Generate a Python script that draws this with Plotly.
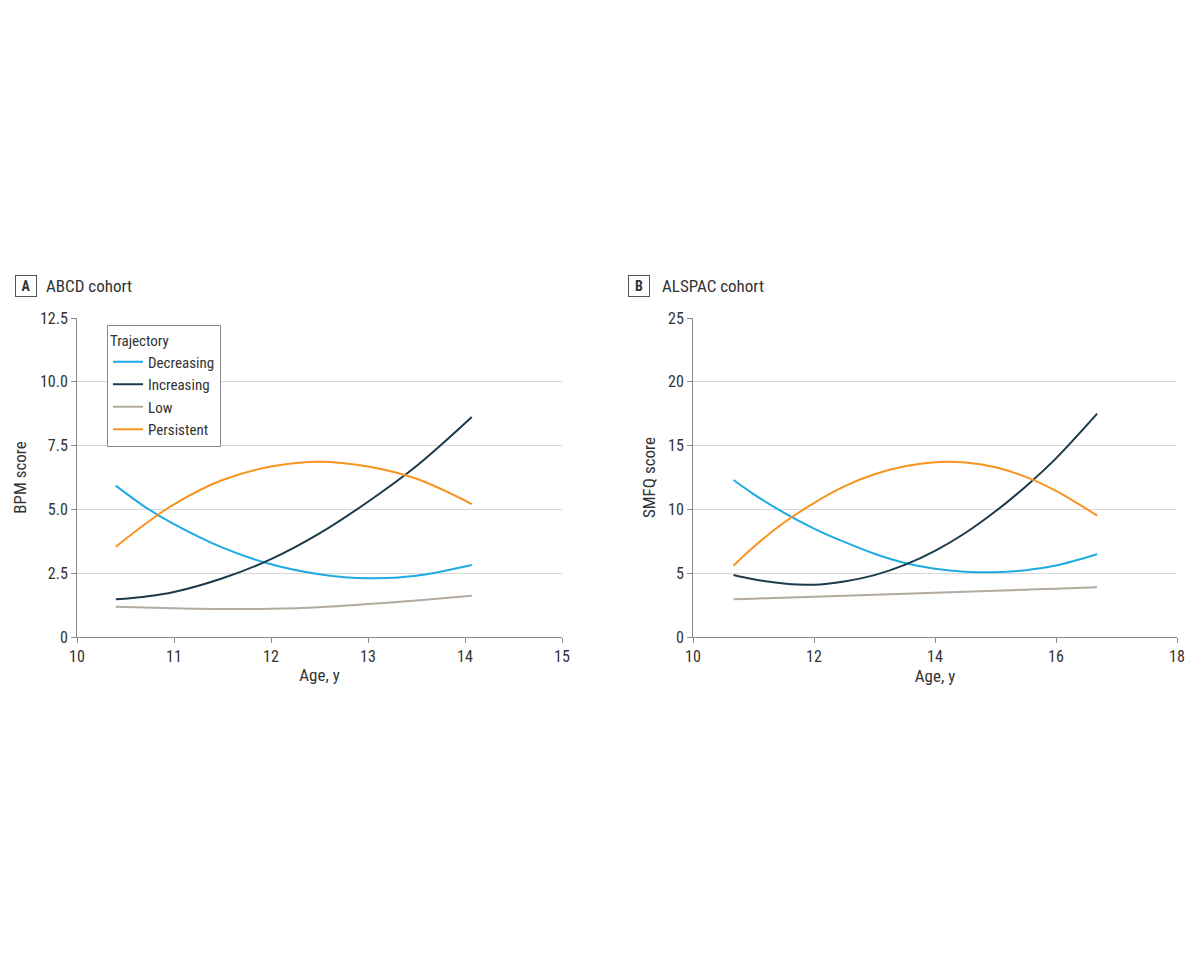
import plotly.graph_objects as go

# ---- Data ----
series_names = ["Decreasing", "Increasing", "Low", "Persistent"]
colors = ["#1EAAE2", "#1B3A4B", "#B3AAA0", "#F7941D"]

abcd_age = [10.4, 10.7, 11.0, 11.5, 12.0, 12.5, 13.0, 13.5, 14.07]
abcd_decreasing = [5.93, 5.10, 4.42, 3.50, 2.85, 2.46, 2.30, 2.40, 2.82]
abcd_increasing = [1.48, 1.58, 1.76, 2.30, 3.05, 4.06, 5.30, 6.70, 8.62]
abcd_low = [1.19, 1.16, 1.13, 1.10, 1.11, 1.17, 1.29, 1.43, 1.62]
abcd_persistent = [3.54, 4.42, 5.20, 6.15, 6.68, 6.87, 6.68, 6.20, 5.21]

alspac_age = [10.67, 11.0, 11.5, 12.0, 12.5, 13.0, 13.5, 14.0, 14.5, 15.0, 15.5, 16.0, 16.68]
alspac_decreasing = [12.30, 11.20, 9.75, 8.50, 7.45, 6.52, 5.80, 5.35, 5.12, 5.08, 5.24, 5.60, 6.48]
alspac_increasing = [4.86, 4.52, 4.20, 4.09, 4.35, 4.85, 5.65, 6.75, 8.15, 9.85, 11.80, 14.00, 17.50]
alspac_low = [2.95, 3.00, 3.08, 3.15, 3.23, 3.31, 3.39, 3.47, 3.55, 3.63, 3.71, 3.79, 3.90]
alspac_persistent = [5.59, 7.05, 8.95, 10.50, 11.80, 12.75, 13.38, 13.70, 13.68, 13.30, 12.55, 11.45, 9.51]

abcd_xticks = [10, 11, 12, 13, 14, 15]
abcd_yticks = [0, 2.5, 5.0, 7.5, 10.0, 12.5]
abcd_yticklabels = ["0", "2.5", "5.0", "7.5", "10.0", "12.5"]
alspac_xticks = [10, 12, 14, 16, 18]
alspac_yticks = [0, 5, 10, 15, 20, 25]

FONT = "Liberation Sans Narrow, Roboto Condensed, Arial Narrow, Liberation Sans, sans-serif"
TXT = "#333333"
AX = "#8a8a8a"
GRID = "#d9d9d9"

W, H = 1200, 961
OFF = 8  # page body margin


def px(x):
    return (x - OFF) / W


def py(y):
    return 1 - (y - OFF) / H


fig = go.Figure()

abcd_vals = [abcd_decreasing, abcd_increasing, abcd_low, abcd_persistent]
alspac_vals = [alspac_decreasing, alspac_increasing, alspac_low, alspac_persistent]

for name, col, vals in zip(series_names, colors, abcd_vals):
    fig.add_trace(go.Scatter(x=abcd_age, y=vals, mode="lines", name=name,
                             line=dict(color=col, width=2, shape="spline", smoothing=1),
                             xaxis="x", yaxis="y", showlegend=True))
for name, col, vals in zip(series_names, colors, alspac_vals):
    fig.add_trace(go.Scatter(x=alspac_age, y=vals, mode="lines", name=name,
                             line=dict(color=col, width=2, shape="spline", smoothing=1),
                             xaxis="x2", yaxis="y2", showlegend=False))

common_x = dict(showgrid=False, zeroline=False, showline=True, linecolor=AX, linewidth=1,
                ticks="outside", ticklen=5, tickcolor=AX, automargin=False,
                tickfont=dict(family=FONT, size=16, color=TXT),
                title=dict(text="Age, y", font=dict(family=FONT, size=17, color=TXT), standoff=3))
common_y = dict(showgrid=True, gridcolor=GRID, gridwidth=1, zeroline=False, showline=True,
                linecolor=AX, linewidth=1, ticks="outside", ticklen=5, tickcolor=AX,
                automargin=False,
                tickfont=dict(family=FONT, size=16, color=TXT))

fig.update_layout(
    width=W, height=H,
    paper_bgcolor="white", plot_bgcolor="white",
    margin=dict(l=0, r=0, t=0, b=0),
    font=dict(family=FONT, color=TXT),
    xaxis=dict(domain=[px(77), px(562)], range=[10, 15], tickvals=abcd_xticks,
               anchor="y", **common_x),
    yaxis=dict(domain=[py(637), py(318)], range=[0, 12.5], tickvals=abcd_yticks,
               ticktext=abcd_yticklabels, anchor="x",
               title=dict(text="BPM score", font=dict(family=FONT, size=17, color=TXT), standoff=8),
               **common_y),
    xaxis2=dict(domain=[px(693), px(1177)], range=[10, 18], tickvals=alspac_xticks,
                anchor="y2", **common_x),
    yaxis2=dict(domain=[py(637), py(318)], range=[0, 25], tickvals=alspac_yticks, anchor="x2",
                title=dict(text="SMFQ score", font=dict(family=FONT, size=17, color=TXT), standoff=8),
                **common_y),
    legend=dict(title=dict(text="Trajectory", font=dict(family=FONT, size=15, color=TXT)),
                x=px(107), y=py(325), xanchor="left", yanchor="top",
                bordercolor="#8a8a8a", borderwidth=1, bgcolor="white",
                font=dict(family=FONT, size=15, color=TXT),
                tracegroupgap=0, itemwidth=30, entrywidth=80, entrywidthmode="pixels"),
    annotations=[
        dict(text="<b>A</b>", x=px(25.5), y=py(286), xref="paper", yref="paper",
             showarrow=False, font=dict(family=FONT, size=14, color=TXT),
             bordercolor="#555555", borderwidth=1, borderpad=2, width=16, height=16,
             xanchor="center", yanchor="middle"),
        dict(text="ABCD cohort", x=px(44), y=py(286), xref="paper", yref="paper",
             showarrow=False, font=dict(family=FONT, size=17, color=TXT),
             xanchor="left", yanchor="middle"),
        dict(text="<b>B</b>", x=px(639), y=py(286), xref="paper", yref="paper",
             showarrow=False, font=dict(family=FONT, size=14, color=TXT),
             bordercolor="#555555", borderwidth=1, borderpad=2, width=16, height=16,
             xanchor="center", yanchor="middle"),
        dict(text="ALSPAC cohort", x=px(660), y=py(286), xref="paper", yref="paper",
             showarrow=False, font=dict(family=FONT, size=17, color=TXT),
             xanchor="left", yanchor="middle"),
    ],
)

fig.write_html("out.html")
